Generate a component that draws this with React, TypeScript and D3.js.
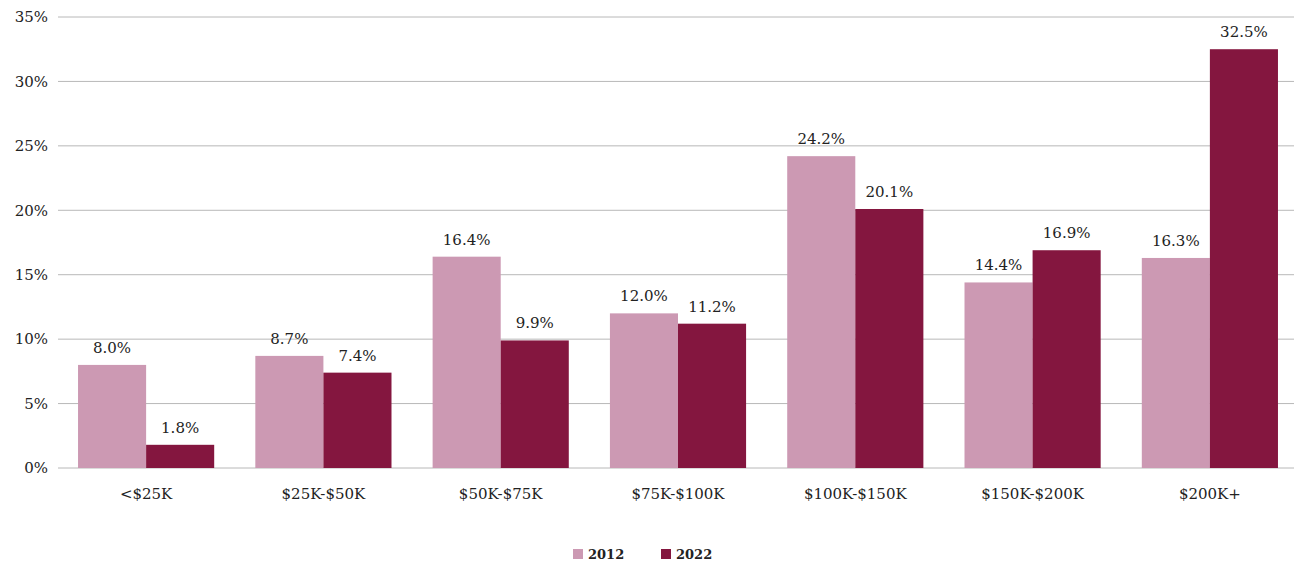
import React from "react";
import * as d3 from "d3";

const categories = ["<$25K", "$25K-$50K", "$50K-$75K", "$75K-$100K", "$100K-$150K", "$150K-$200K", "$200K+"];
const series2012 = [8.0, 8.7, 16.4, 12.0, 24.2, 14.4, 16.3];
const series2022 = [1.8, 7.4, 9.9, 11.2, 20.1, 16.9, 32.5];
const yTicks = [0, 5, 10, 15, 20, 25, 30, 35];
const seriesNames = ["2012", "2022"];
const colors = ["#CC99B3", "#84163F"];

const W = 1294;
const H = 563;
const left = 58;
const right = 1298;
const top = 17;
const bottom = 468;
const font = "'DejaVu Serif', 'Liberation Serif', serif";

export default function App() {
  const x = d3.scaleBand<string>().domain(categories).range([left, right]).paddingInner(0.232).paddingOuter(0.113);
  const xs = d3.scaleBand<string>().domain(seriesNames).range([0, x.bandwidth()]);
  const y = d3.scaleLinear().domain([0, 35]).range([bottom, top]);
  const data = [series2012, series2022];

  return (
    <svg width={W} height={H} style={{ position: "absolute", left: 0, top: 0, background: "#fff" }}>
      {yTicks.map((t) => (
        <g key={t}>
          <line x1={left} x2={W} y1={y(t)} y2={y(t)} stroke="#b8b8b8" strokeWidth={1} />
          <text x={48} y={y(t)} dy="0.35em" textAnchor="end" fontFamily={font} fontSize={15} fill="#222">
            {t}%
          </text>
        </g>
      ))}
      {categories.map((c, i) => (
        <g key={c} transform={`translate(${x(c)},0)`}>
          {seriesNames.map((s, k) => {
            const v = data[k][i];
            const bx = xs(s)!;
            return (
              <g key={s}>
                <rect x={bx} y={y(v)} width={xs.bandwidth()} height={y(0) - y(v)} fill={colors[k]} />
                <text
                  x={bx + xs.bandwidth() / 2}
                  y={y(v) - 12}
                  textAnchor="middle"
                  fontFamily={font}
                  fontSize={15}
                  fill="#222"
                >
                  {v.toFixed(1)}%
                </text>
              </g>
            );
          })}
          <text x={x.bandwidth() / 2} y={499} textAnchor="middle" fontFamily={font} fontSize={15} fill="#222">
            {c}
          </text>
        </g>
      ))}
      {seriesNames.map((s, k) => {
        const lx = k === 0 ? 573 : 661;
        return (
          <g key={s}>
            <rect x={lx} y={549} width={10} height={10} fill={colors[k]} />
            <text x={lx + 15} y={559} fontFamily={font} fontSize={13} fontWeight="bold" fill="#222">
              {s}
            </text>
          </g>
        );
      })}
    </svg>
  );
}
